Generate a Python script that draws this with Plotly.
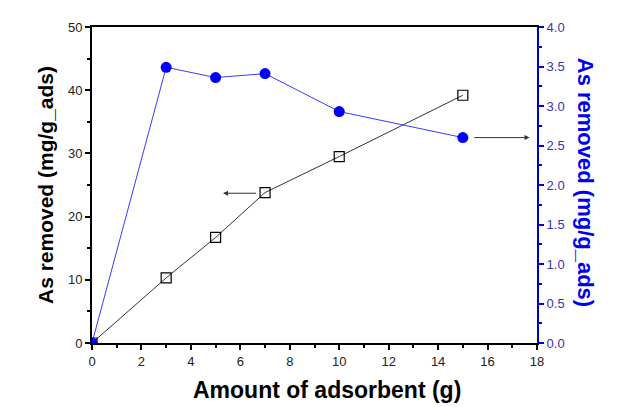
import plotly.graph_objects as go

# adsorbent amount (g)
amount = [0, 3, 5, 7, 10, 15]
# left axis series (open squares)
removed_left = [0, 10.3, 16.7, 23.8, 29.5, 39.2]
# right axis series (blue circles)
removed_right = [0, 3.49, 3.36, 3.41, 2.93, 2.60]

fig = go.Figure()

fig.add_trace(go.Scatter(
    x=amount, y=removed_left, mode="lines+markers",
    line=dict(color="#333333", width=1),
    marker=dict(symbol="square-open", size=10, color="black", line=dict(width=1.2)),
    showlegend=False))

fig.add_trace(go.Scatter(
    x=amount, y=removed_right, mode="lines+markers", yaxis="y2",
    line=dict(color="#3a3aff", width=1),
    marker=dict(symbol="circle", size=11, color="#0000ff"),
    showlegend=False))

font_tick = dict(family="Liberation Sans, Arial", size=13, color="#222222")

# page body has an 8px offset, so margins are shifted to keep the plot in place
fig.update_layout(
    width=644, height=407,
    margin=dict(l=84, r=115, t=17, b=72),
    paper_bgcolor="white", plot_bgcolor="white",
    xaxis=dict(range=[0, 18], dtick=2, showgrid=False, zeroline=False,
               showline=True, linecolor="black", linewidth=2, mirror=True,
               ticks="outside", ticklen=5, tickwidth=1.5, tickcolor="black",
               minor=dict(ticks="outside", ticklen=3, dtick=1, tickcolor="black"),
               tickfont=font_tick),
    yaxis=dict(range=[0, 50], dtick=10, showgrid=False, zeroline=False,
               showline=True, linecolor="black", linewidth=2,
               ticks="outside", ticklen=5, tickwidth=1.5, tickcolor="black",
               minor=dict(ticks="outside", ticklen=3, dtick=5, tickcolor="black"),
               tickfont=font_tick,
               title=dict(text="<b>As removed (mg/g_ads)</b>",
                          font=dict(family="Liberation Sans, Arial", size=21, color="black"),
                          standoff=9)),
    yaxis2=dict(range=[0, 4], dtick=0.5, tickformat=".1f", overlaying="y", side="right",
                showgrid=False, zeroline=False,
                showline=True, linecolor="#0000cc", linewidth=2,
                ticks="outside", ticklen=5, tickwidth=1.5, tickcolor="#0000cc",
                minor=dict(ticks="outside", ticklen=3, dtick=0.25, tickcolor="#0000cc"),
                tickfont=dict(family="Liberation Sans, Arial", size=13, color="#3333bb")),
)

# x axis title, a bit right of centre as in the original
fig.add_annotation(
    xref="paper", yref="paper", x=0.528, y=-0.15, xanchor="center", yanchor="middle",
    text="<b>Amount of adsorbent (g)</b>", showarrow=False,
    font=dict(family="Liberation Sans, Arial", size=23, color="black"))

# right axis title, reading top to bottom
fig.add_annotation(
    xref="paper", yref="paper", x=1.108, y=0.51, xanchor="center", yanchor="middle",
    text="<b>As removed (mg/g_ads)</b>", textangle=90, showarrow=False,
    font=dict(family="Liberation Sans, Arial", size=22, color="#0000ee"))

# arrows pointing at the axis for each series
fig.add_annotation(x=5.3, y=23.7, ax=6.7, ay=23.7, xref="x", yref="y", axref="x", ayref="y",
                   showarrow=True, arrowhead=2, arrowsize=1, arrowwidth=1, arrowcolor="#333333", text="")
fig.add_annotation(x=17.7, y=2.6, ax=15.4, ay=2.6, xref="x", yref="y2", axref="x", ayref="y2",
                   showarrow=True, arrowhead=2, arrowsize=1, arrowwidth=1, arrowcolor="#333333", text="")

fig.write_html("out.html")
